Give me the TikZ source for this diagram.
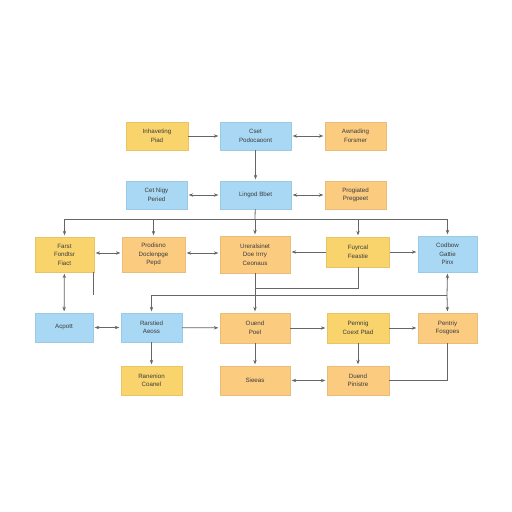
\documentclass[tikz,border=0pt]{standalone}
\usepackage{fontspec}
\setsansfont{Liberation Sans}
\usetikzlibrary{arrows.meta,shadows}

\definecolor{boxyellow}{HTML}{F9D46C}
\definecolor{boxorange}{HTML}{FBCB80}
\definecolor{boxblue}{HTML}{A8D8F4}
\definecolor{linegray}{HTML}{666666}
\definecolor{textgray}{HTML}{3C3C3C}

\begin{document}
\begin{tikzpicture}[x=1bp,y=-1bp,
  card/.style={minimum height=28bp, inner sep=1bp, align=center, line width=0.3bp,
    font=\sffamily\fontsize{6.2}{8.6}\selectfont, text=textgray,
    drop shadow={opacity=0.18,shadow xshift=0.6bp,shadow yshift=-0.9bp}},
  yel/.style={card, fill=boxyellow, draw=boxyellow!93!black},
  ora/.style={card, fill=boxorange, draw=boxorange!93!black},
  blu/.style={card, fill=boxblue, draw=boxblue!93!black},
  wire/.style={draw=linegray, line width=0.8bp},
  arr/.style={wire, shorten >=1.5bp, -{Stealth[length=4.5bp,width=3.4bp]}},
  darr/.style={wire, shorten >=1.5bp, shorten <=1.5bp,
    {Stealth[length=4.5bp,width=3.4bp]}-{Stealth[length=4.5bp,width=3.4bp]}}]

\fill[white] (0,0) rectangle (512,512);
\useasboundingbox (0,0) rectangle (512,512);

\node[yel, minimum width=62bp] (inp) at (157,136) {Inhaveting\\Piad};
\node[blu, minimum width=71bp] (cet) at (255.5,136) {Cset\\Podocaoont};
\node[ora, minimum width=61bp] (awn) at (355.5,136) {Awnading\\Forsmer};

\node[blu, minimum width=61bp] (nig) at (156.5,195) {Cet Nigy\\Peried};
\node[blu, minimum width=71bp] (lin) at (255.5,195) {Lingod Bbet};
\node[ora, minimum width=61bp] (pro) at (355.5,195) {Progiated\\Pregpeet};

\node[yel, minimum width=59bp, minimum height=35bp] (far) at (64.5,254.5) {Farst\\Fondtsr\\Fiact};
\node[ora, minimum width=63bp, minimum height=35bp] (pdl) at (153.5,254.5) {Prodisno\\Doclenpge\\Pepd};
\node[ora, minimum width=70bp, minimum height=37bp] (ure) at (255,254.5) {Ureralsinet\\Doe Irrry\\Ceonaus};
\node[yel, minimum width=63bp, minimum height=30bp] (fuy) at (358,252) {Fuyrcal\\Feastie};
\node[blu, minimum width=59bp, minimum height=36bp] (cod) at (447.5,254) {Codbow\\Gattie\\Pinx};

\node[blu, minimum width=58bp, minimum height=29bp] (acp) at (64,327.5) {Acpott};
\node[blu, minimum width=61bp, minimum height=29bp] (rar) at (151.5,327.5) {Rarstied\\Aeoss};
\node[ora, minimum width=70bp, minimum height=30bp] (oue) at (255,328) {Ouend\\Poel};
\node[yel, minimum width=62bp, minimum height=30bp] (pem) at (358,328) {Pemnig\\Coext Ptad};
\node[ora, minimum width=59bp, minimum height=30bp] (pen) at (447.5,328) {Pentriy\\Fosgoes};

\node[yel, minimum width=61bp, minimum height=29bp] (ran) at (151.5,380.5) {Ranenion\\Coanel};
\node[ora, minimum width=70bp, minimum height=29bp] (sie) at (255,380.5) {Sieeas};
\node[ora, minimum width=62bp, minimum height=29bp] (due) at (358,380.5) {Duend\\Pinistre};

\coordinate (bustop) at (255,219);
\coordinate (busmid) at (447,295);
\coordinate (joinf) at (255,288);
\coordinate (stub) at (93,295);

\draw[arr] (inp) -- (cet);
\draw[darr] (cet) -- (awn);
\draw[arr] (cet) -- (lin);
\draw[darr] (nig) -- (lin);
\draw[darr] (lin) -- (pro);

\draw[wire] (lin) -- (bustop);
\foreach \n in {far,pdl,ure,fuy,cod}
  \draw[arr] (bustop) -| (\n.north);

\draw[darr] (far.east |- 0,253) -- (pdl.west |- 0,253);
\draw[darr] (pdl.east |- 0,253) -- (ure.west |- 0,253);
\draw[arr] (fuy) -- (ure.east |- fuy);
\draw[arr] (fuy) -- (cod.west |- fuy);
\draw[darr] (far) -- (acp);
\draw[wire] (far.south east) ++(-1,0) coordinate (farse) (farse) -- (farse |- stub);

\draw[arr] (ure) -- (oue);
\draw[wire] (fuy.south) |- (joinf);
\draw[arr] (busmid) -- (cod.south);
\draw[arr] (busmid) -- (pen.north);
\draw[arr] (busmid) -| (rar.north);

\draw[darr] (acp) -- (rar);
\draw[arr] (rar) -- (oue);
\draw[arr] (oue) -- (pem);
\draw[arr] (pem) -- (pen);
\draw[arr] (rar) -- (ran);
\draw[arr] (oue) -- (sie);
\draw[arr] (pem) -- (due);
\draw[darr] (sie) -- (due);
\draw[wire] (due.east) -| (pen.south);
\end{tikzpicture}
\end{document}
